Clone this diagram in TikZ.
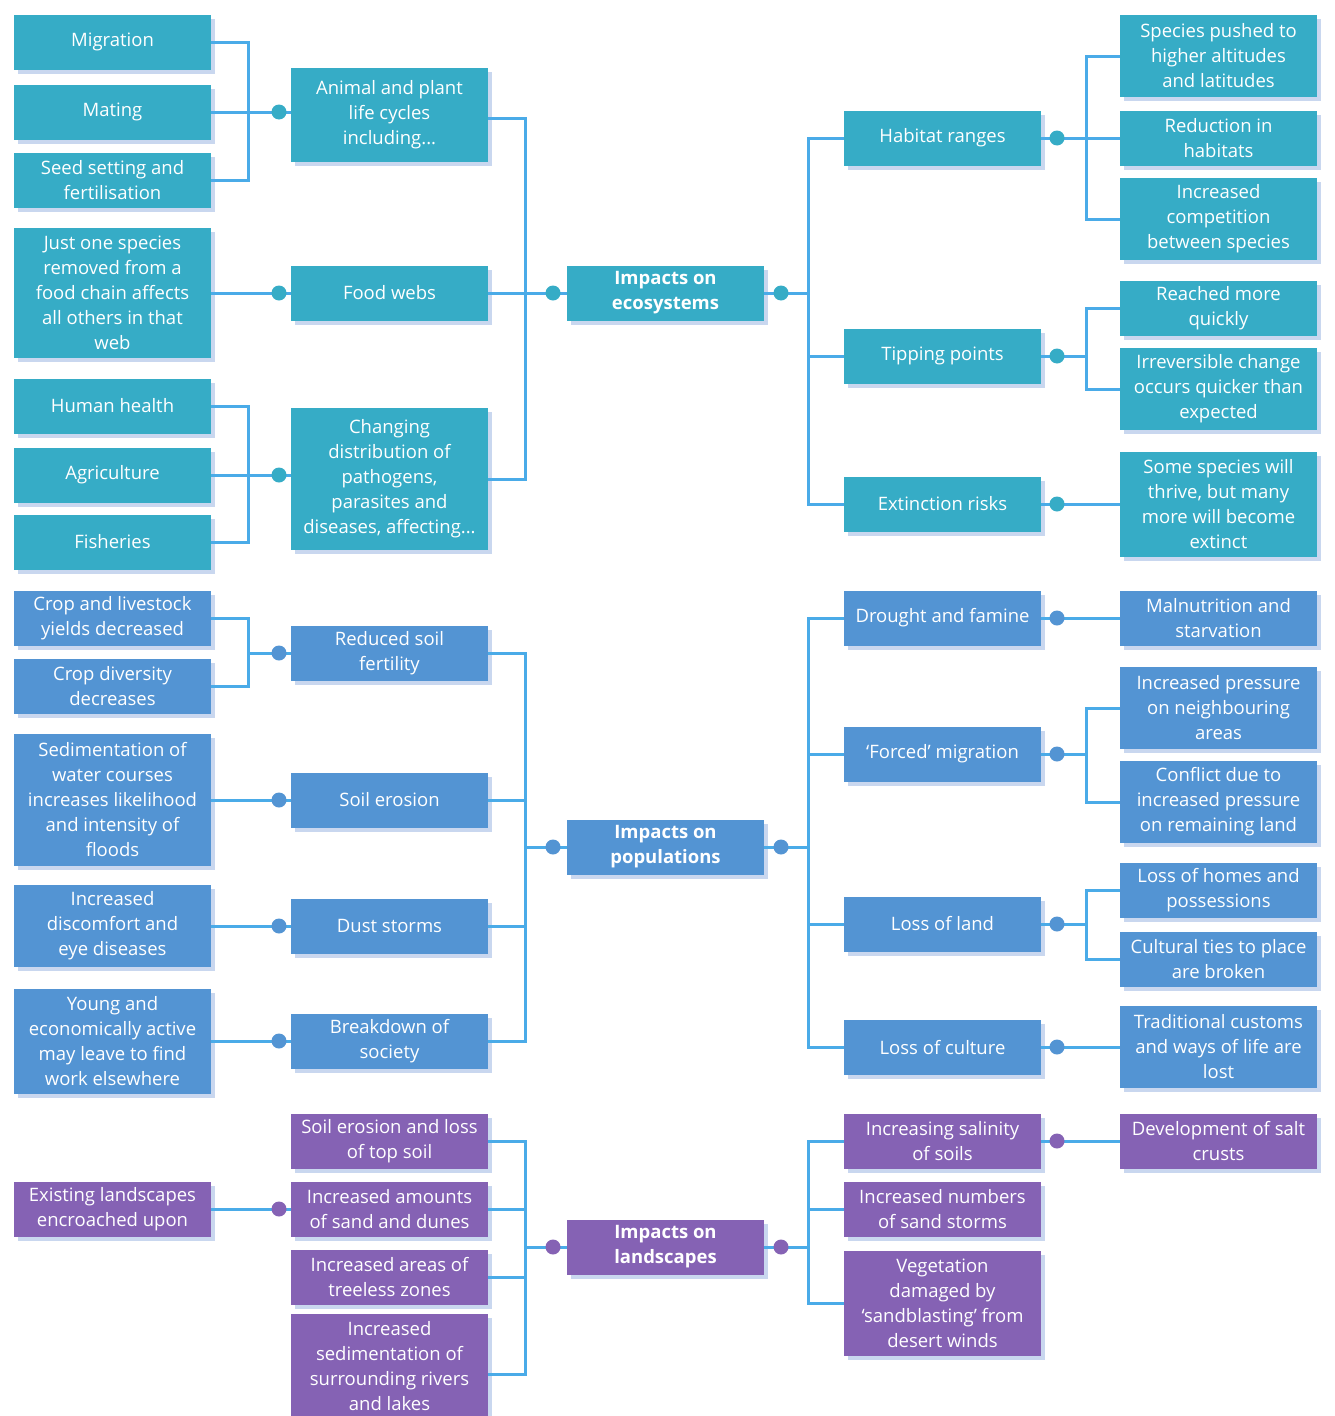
\documentclass[tikz,border=0pt]{standalone}
\usepackage{fontspec}
\setmainfont{Open Sans}
\usetikzlibrary{shadows}
\definecolor{ceco}{HTML}{36ACC6}
\definecolor{cpop}{HTML}{5394D3}
\definecolor{cland}{HTML}{8562B4}
\definecolor{cline}{HTML}{4AABE8}
\definecolor{cshad}{HTML}{C9D7EF}
\tikzset{
  bx/.style={rectangle, minimum width=197pt, minimum height=55pt, inner sep=0pt, outer sep=0pt,
    align=center, text=white, font=\fontsize{18.5}{25}\selectfont,
    general shadow={shadow xshift=4pt, shadow yshift=-4pt, fill=cshad}},
  eco/.style={bx, fill=ceco},
  pop/.style={bx, fill=cpop},
  land/.style={bx, fill=cland},
  hub/.style={font=\fontsize{18.5}{25}\selectfont\bfseries},
  conn/.style={draw=cline, line width=3pt},
  jdot/.style={circle, fill=#1, minimum size=15pt, inner sep=0pt, outer sep=0pt},
}
\begin{document}
\begin{tikzpicture}[x=1pt,y=-1pt]
\useasboundingbox (0,0) rectangle (1335,1416);
% ---------------- ecosystems ----------------
\node[eco] (mig) at (112.5,42) {Migration};
\node[eco] (mat) at (112.5,112) {Mating};
\node[eco] (seed) at (112.5,180) {Seed setting and\\fertilisation};
\node[eco, minimum height=94pt] (anim) at (389.5,115) {Animal and plant\\life cycles\\including...};
\node[eco, minimum height=130pt] (one) at (112.5,293) {Just one species\\removed from a\\food chain affects\\all others in that\\web};
\node[eco] (food) at (389.5,293) {Food webs};
\node[eco] (hum) at (112.5,406) {Human health};
\node[eco] (agri) at (112.5,475) {Agriculture};
\node[eco] (fish) at (112.5,542) {Fisheries};
\node[eco, minimum height=142pt] (chg) at (389.5,479) {Changing\\distribution of\\pathogens,\\parasites and\\diseases, affecting...};
\node[eco, hub] (ieco) at (665.5,293) {Impacts on\\ecosystems};
\node[eco] (hab) at (942.5,138) {Habitat ranges};
\node[eco] (tip) at (942.5,356) {Tipping points};
\node[eco] (ext) at (942.5,504) {Extinction risks};
\node[eco, minimum height=82pt] (push) at (1218.5,56) {Species pushed to\\higher altitudes\\and latitudes};
\node[eco] (red) at (1218.5,138) {Reduction in\\habitats};
\node[eco, minimum height=82pt] (comp) at (1218.5,219) {Increased\\competition\\between species};
\node[eco] (reach) at (1218.5,308) {Reached more\\quickly};
\node[eco, minimum height=82pt] (irr) at (1218.5,389) {Irreversible change\\occurs quicker than\\expected};
\node[eco, minimum height=105pt] (thr) at (1218.5,504) {Some species will\\thrive, but many\\more will become\\extinct};
% ---------------- populations ----------------
\node[pop] (crop) at (112.5,618) {Crop and livestock\\yields decreased};
\node[pop] (cdiv) at (112.5,686) {Crop diversity\\decreases};
\node[pop] (rsf) at (389.5,653) {Reduced soil\\fertility};
\node[pop, minimum height=132pt] (sed) at (112.5,800) {Sedimentation of\\water courses\\increases likelihood\\and intensity of\\floods};
\node[pop] (ser) at (389.5,800) {Soil erosion};
\node[pop, minimum height=82pt] (disc) at (112.5,926) {Increased\\discomfort and\\eye diseases};
\node[pop] (dust) at (389.5,926) {Dust storms};
\node[pop, minimum height=105pt] (young) at (112.5,1041) {Young and\\economically active\\may leave to find\\work elsewhere};
\node[pop] (brk) at (389.5,1041) {Breakdown of\\society};
\node[pop, hub] (ipop) at (665.5,847) {Impacts on\\populations};
\node[pop] (drt) at (942.5,618) {Drought and famine};
\node[pop] (forc) at (942.5,754) {`Forced' migration};
\node[pop] (lol) at (942.5,924) {Loss of land};
\node[pop] (loc) at (942.5,1047) {Loss of culture};
\node[pop] (mal) at (1218.5,618) {Malnutrition and\\starvation};
\node[pop, minimum height=82pt] (prs) at (1218.5,708) {Increased pressure\\on neighbouring\\areas};
\node[pop, minimum height=82pt] (cnf) at (1218.5,802) {Conflict due to\\increased pressure\\on remaining land};
\node[pop] (home) at (1218.5,890) {Loss of homes and\\possessions};
\node[pop] (ties) at (1218.5,959) {Cultural ties to place\\are broken};
\node[pop, minimum height=82pt] (trad) at (1218.5,1047) {Traditional customs\\and ways of life are\\lost};
% ---------------- landscapes ----------------
\node[land] (exi) at (112.5,1209) {Existing landscapes\\encroached upon};
\node[land] (sls) at (389.5,1141) {Soil erosion and loss\\of top soil};
\node[land] (amt) at (389.5,1209) {Increased amounts\\of sand and dunes};
\node[land] (tre) at (389.5,1277) {Increased areas of\\treeless zones};
\node[land, minimum height=105pt] (sdm) at (389.5,1366) {Increased\\sedimentation of\\surrounding rivers\\and lakes};
\node[land, hub] (ilan) at (665.5,1247) {Impacts on\\landscapes};
\node[land] (sal) at (942.5,1141) {Increasing salinity\\of soils};
\node[land] (num) at (942.5,1209) {Increased numbers\\of sand storms};
\node[land, minimum height=105pt] (veg) at (942.5,1303) {Vegetation\\damaged by\\`sandblasting' from\\desert winds};
\node[land] (crust) at (1218.5,1141) {Development of salt\\crusts};
% ---------------- junction coordinates ----------------
\coordinate (j1) at (248,112);
\coordinate (j2) at (248,475);
\coordinate (j3) at (525,293);
\coordinate (j4) at (808,293);
\coordinate (j5) at (1086,138);
\coordinate (j6) at (1086,356);
\coordinate (j7) at (248,653);
\coordinate (j8) at (525,847);
\coordinate (j9) at (808,847);
\coordinate (j10) at (1086,754);
\coordinate (j11) at (1086,924);
\coordinate (j12) at (525,1247);
\coordinate (j13) at (808,1247);
% ---------------- connectors: ecosystems ----------------
\draw[conn] (mig.east) -| (j1) |- (seed.east);
\draw[conn] (mat.east) -- (mat.east -| anim.west);
\draw[conn] (one.east) -- (food.west);
\draw[conn] (hum.east) -| (j2) |- (fish.east);
\draw[conn] (agri.east) -- (agri.east -| chg.west);
\draw[conn] ([yshift=-3pt]anim.east) -| (j3) |- (chg.east);
\draw[conn] (food.east) -- (ieco.west);
\draw[conn] (ieco.east) -- (j4);
\draw[conn] (hab.west) -| (j4) |- (ext.west);
\draw[conn] (j4) |- (tip.west);
\draw[conn] (push.west) -| (j5) |- (comp.west);
\draw[conn] (hab.east) -- (red.west);
\draw[conn] (reach.west) -| (j6) |- (irr.west);
\draw[conn] (tip.east) -- (j6);
\draw[conn] (ext.east) -- (thr.west);
% ---------------- connectors: populations ----------------
\draw[conn] (crop.east) -| (j7) |- (cdiv.east);
\draw[conn] (j7) -- (rsf.west);
\draw[conn] (sed.east) -- (ser.west);
\draw[conn] (disc.east) -- (dust.west);
\draw[conn] (young.east) -- (brk.west);
\draw[conn] (rsf.east) -| (j8) |- (brk.east);
\draw[conn] (ser.east) -| (j8);
\draw[conn] (dust.east) -| (j8);
\draw[conn] (j8) -- (ipop.west);
\draw[conn] (ipop.east) -- (j9);
\draw[conn] (drt.west) -| (j9) |- (loc.west);
\draw[conn] (forc.west) -| (j9);
\draw[conn] (lol.west) -| (j9);
\draw[conn] (drt.east) -- (mal.west);
\draw[conn] (prs.west) -| (j10) |- (cnf.west);
\draw[conn] (forc.east) -- (j10);
\draw[conn] (home.west) -| (j11) |- (ties.west);
\draw[conn] (lol.east) -- (j11);
\draw[conn] (loc.east) -- (trad.west);
% ---------------- connectors: landscapes ----------------
\draw[conn] (exi.east) -- (amt.west);
\draw[conn] (sls.east) -| (j12) |- ([yshift=-8pt]sdm.east);
\draw[conn] (amt.east) -| (j12);
\draw[conn] (tre.east) -| (j12);
\draw[conn] (j12) -- (ilan.west);
\draw[conn] (ilan.east) -- (j13);
\draw[conn] (sal.west) -| (j13) |- (veg.west);
\draw[conn] (num.west) -| (j13);
\draw[conn] (sal.east) -- (crust.west);
% ---------------- dots ----------------
\node[jdot=ceco] (d1) at (279,112) {};
\node[jdot=ceco] (d2) at (279,293) {};
\node[jdot=ceco] (d3) at (279,475) {};
\node[jdot=ceco] (d4) at (553,293) {};
\node[jdot=ceco] (d5) at (781,293) {};
\node[jdot=ceco] (d6) at (1057,138) {};
\node[jdot=ceco] (d7) at (1057,356) {};
\node[jdot=ceco] (d8) at (1057,504) {};
\node[jdot=cpop] (d9) at (279,653) {};
\node[jdot=cpop] (d10) at (279,800) {};
\node[jdot=cpop] (d11) at (279,926) {};
\node[jdot=cpop] (d12) at (279,1041) {};
\node[jdot=cpop] (d13) at (553,847) {};
\node[jdot=cpop] (d14) at (781,847) {};
\node[jdot=cpop] (d15) at (1057,618) {};
\node[jdot=cpop] (d16) at (1057,754) {};
\node[jdot=cpop] (d17) at (1057,924) {};
\node[jdot=cpop] (d18) at (1057,1047) {};
\node[jdot=cland] (d19) at (279,1209) {};
\node[jdot=cland] (d20) at (553,1247) {};
\node[jdot=cland] (d21) at (781,1247) {};
\node[jdot=cland] (d22) at (1057,1141) {};
\end{tikzpicture}
\end{document}
